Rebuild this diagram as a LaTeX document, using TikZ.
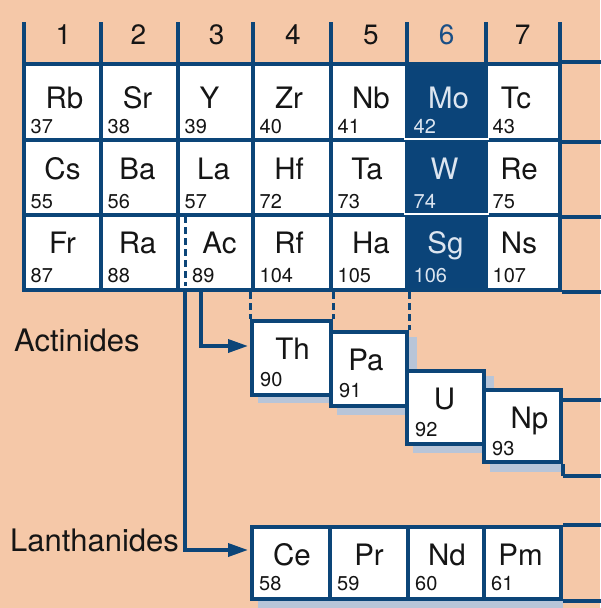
\documentclass[tikz,border=0pt]{standalone}
\usepackage{fontspec}
\setmainfont{TeX Gyre Heros}
\usetikzlibrary{arrows.meta}
\definecolor{peach}{HTML}{F5C8A8}
\definecolor{navy}{HTML}{0C4578}
\definecolor{darkcell}{HTML}{0B4479}
\definecolor{shade}{HTML}{B8C5D8}
\definecolor{lighttxt}{HTML}{DCE5F0}
\definecolor{headblue}{HTML}{1A4F86}
\definecolor{inktxt}{HTML}{151515}
\pgfdeclarelayer{back}
\pgfdeclarelayer{shadows}
\pgfsetlayers{back,shadows,main}
\tikzset{
  gridline/.style={draw=navy,line width=4pt},
  cellbox/.style={draw=navy,line width=4pt,fill=white,inner sep=0pt,rectangle},
  cellboxD/.style={draw=navy,line width=4pt,fill=darkcell,inner sep=0pt,rectangle},
  symtxt/.style={inner sep=0pt,font=\fontsize{29.5}{30}\selectfont,text=inktxt},
  symtxtD/.style={inner sep=0pt,font=\fontsize{29.5}{30}\selectfont,text=lighttxt},
  numtxt/.style={inner sep=0pt,font=\fontsize{20}{20}\selectfont,text=inktxt},
  numtxtD/.style={inner sep=0pt,font=\fontsize{20}{20}\selectfont,text=lighttxt},
  headtxt/.style={inner sep=0pt,font=\fontsize{28}{28}\selectfont,anchor=base,text=inktxt},
  labeltxt/.style={inner sep=0pt,font=\fontsize{31}{31}\selectfont,anchor=base west,text=inktxt},
  conn/.style={draw=navy,line width=3.5pt,-{Triangle[length=20pt,width=13pt]}},
  dashc/.style={draw=navy,line width=3pt,dash pattern=on 7pt off 4pt},
  shadowfill/.style={fill=shade}
}
% #1 name, #2 x1, #3 y1, #4 x2, #5 y2, #6 symbol, #7 number, #8 style suffix, #9 symbol dx
\newcommand\elc[9]{%
  \node[cellbox#8,minimum width={(#4)-(#2)},minimum height={(#5)-(#3)}] (#1) at ({((#2)+(#4))/2},{((#3)+(#5))/2}) {};
  \node[symtxt#8,anchor=base] (#1s) at ({((#2)+(#4))/2+(#9)},{(#3)+\so}) {#6};
  \node[numtxt#8,anchor=base west] (#1n) at ({(#2)+\nx},{(#3)+\no}) {#7};
}
\begin{document}
\begin{tikzpicture}[x=1pt,y=-1pt]
\useasboundingbox (0,0) rectangle (600,608);
\begin{pgfonlayer}{back}
\fill[peach] (0,0) rectangle (600,608);
\end{pgfonlayer}

% header
\foreach \xx in {24,101,178,253,331,407,486,560}
  \draw[gridline] (\xx,22) -- (\xx,64);
\node[headtxt] (h1) at (63.3,44.3) {1};
\node[headtxt] (h2) at (138.3,44.3) {2};
\node[headtxt] (h3) at (216.7,44.3) {3};
\node[headtxt] (h4) at (293,44.3) {4};
\node[headtxt] (h5) at (371,44.3) {5};
\node[headtxt,text=headblue] (h6) at (446.7,44.3) {6};
\node[headtxt] (h7) at (522.7,44.3) {7};

\def\nx{6.5}
% row 1
\def\so{44.5}\def\no{69}
\elc{Rb}{24}{64}{101}{140}{Rb}{37}{}{2}
\elc{Sr}{101}{64}{178}{140}{Sr}{38}{}{-2}
\elc{Y}{178}{64}{253}{140}{Y}{39}{}{-6}
\elc{Zr}{253}{64}{331}{140}{Zr}{40}{}{-3}
\elc{Nb}{331}{64}{407}{140}{Nb}{41}{}{2}
\elc{Mo}{407}{64}{486}{140}{Mo}{42}{D}{2}
\elc{Tc}{486}{64}{560}{140}{Tc}{43}{}{-7}
% row 2
\def\so{39}\def\no{68.5}
\elc{Cs}{24}{140}{101}{215}{Cs}{55}{}{0}
\elc{Ba}{101}{140}{178}{215}{Ba}{56}{}{-2}
\elc{La}{178}{140}{253}{215}{La}{57}{}{-2}
\elc{Hf}{253}{140}{331}{215}{Hf}{72}{}{-3}
\elc{Ta}{331}{140}{407}{215}{Ta}{73}{}{-2}
\elc{W}{407}{140}{486}{215}{W}{74}{D}{-2}
\elc{Re}{486}{140}{560}{215}{Re}{75}{}{-4}
% row 3
\def\so{38}\def\no{67.5}
\elc{Fr}{24}{215}{101}{290}{Fr}{87}{}{0}
\elc{Ra}{101}{215}{178}{290}{Ra}{88}{}{-2}
\def\nx{14}
\elc{Ac}{178}{215}{253}{290}{Ac}{89}{}{4}
\def\nx{6.5}
\elc{Rf}{253}{215}{331}{290}{Rf}{104}{}{-3}
\elc{Ha}{331}{215}{407}{290}{Ha}{105}{}{2}
\elc{Sg}{407}{215}{486}{290}{Sg}{106}{D}{-1}
\elc{Ns}{486}{215}{560}{290}{Ns}{107}{}{-4}

% white separators in the dark column
\draw[white,line width=2pt,shorten <=-1pt,shorten >=-1pt] ([yshift=2.6pt]Mo.south west) -- ([yshift=2.6pt]Mo.south east);
\draw[white,line width=2pt,shorten <=-1pt,shorten >=-1pt] ([yshift=2.6pt]W.south west) -- ([yshift=2.6pt]W.south east);

% stubs of column 8
\draw[gridline] (Tc.north east) -- ++(40,0);
\draw[gridline] (Tc.south east) -- ++(40,0);
\draw[gridline] (Re.south east) -- ++(40,0);
\draw[gridline] (Ns.south east) -- ++(40,0);

% actinides
\def\so{38}\def\no{65}
\def\nx{8}
\elc{Th}{252}{321}{331}{395}{Th}{90}{}{1}
\elc{Pa}{331}{332}{407}{406}{Pa}{91}{}{-3}
\elc{U}{407}{371}{484}{444}{U}{92}{}{-1}
\elc{Np}{484}{390}{561}{462}{Np}{93}{}{7}
\draw[gridline] (Np.south east) -- ++(0,12);
\draw[gridline] ([yshift=-11.5pt]Np.north east) -- ++(39,0);
\draw[gridline] ([yshift=-11.5pt]Np.south east) -- ++(39,0);

% lanthanides
\def\so{38}\def\no{63}
\def\nx{7}
\elc{Ce}{252}{527}{330}{599}{Ce}{58}{}{1}
\elc{Pr}{330}{527}{408}{599}{Pr}{59}{}{0}
\elc{Nd}{408}{527}{484}{599}{Nd}{60}{}{1}
\elc{Pm}{484}{527}{561}{599}{Pm}{61}{}{-2}
\draw[gridline] (Pm.north east) -- ++(39,0);
\draw[gridline] (Pm.south east) -- ++(39,0);

% shadows
\begin{pgfonlayer}{shadows}
\fill[shadowfill] ([shift={(8pt,-6pt)}]Th.south west) rectangle ([yshift=-6pt]Th.north east);
\fill[shadowfill] ([shift={(8pt,-7pt)}]Pa.south west) rectangle ([shift={(8pt,-7pt)}]Pa.north east);
\fill[shadowfill] ([shift={(8pt,-7pt)}]U.south west) rectangle ([shift={(8pt,-7pt)}]U.north east);
\fill[shadowfill] ([shift={(8pt,-8pt)}]Np.south west) rectangle ([yshift=-8pt]Np.north east);
\fill[shadowfill] ([shift={(8pt,-10pt)}]Ce.south west) rectangle ([yshift=-10pt]Pm.north east);
\end{pgfonlayer}

% labels
\node[labeltxt] (actlabel) at (14,351.7) {Actinides};
\node[labeltxt] (lanlabel) at (10,551.7) {Lanthanides};

% connectors
\draw[dashc] ([xshift=9pt,yshift=-3pt]Ac.north west) -- ([xshift=9pt,yshift=6pt]Ac.south west);
\draw[conn] ([xshift=9pt]Ac.south west) |- ([xshift=-2pt,yshift=13pt]Ce.west);
\draw[conn] ([xshift=25pt]Ac.south west) |- ([xshift=-2pt,yshift=12pt]Th.west);
\draw[dashc] (Th.north west |- Rf.south) -- (Th.north west);
\draw[dashc] (Th.north east |- Rf.south) -- (Th.north east);
\draw[dashc] (Pa.north east |- Ha.south) -- (Pa.north east);
\end{tikzpicture}
\end{document}
